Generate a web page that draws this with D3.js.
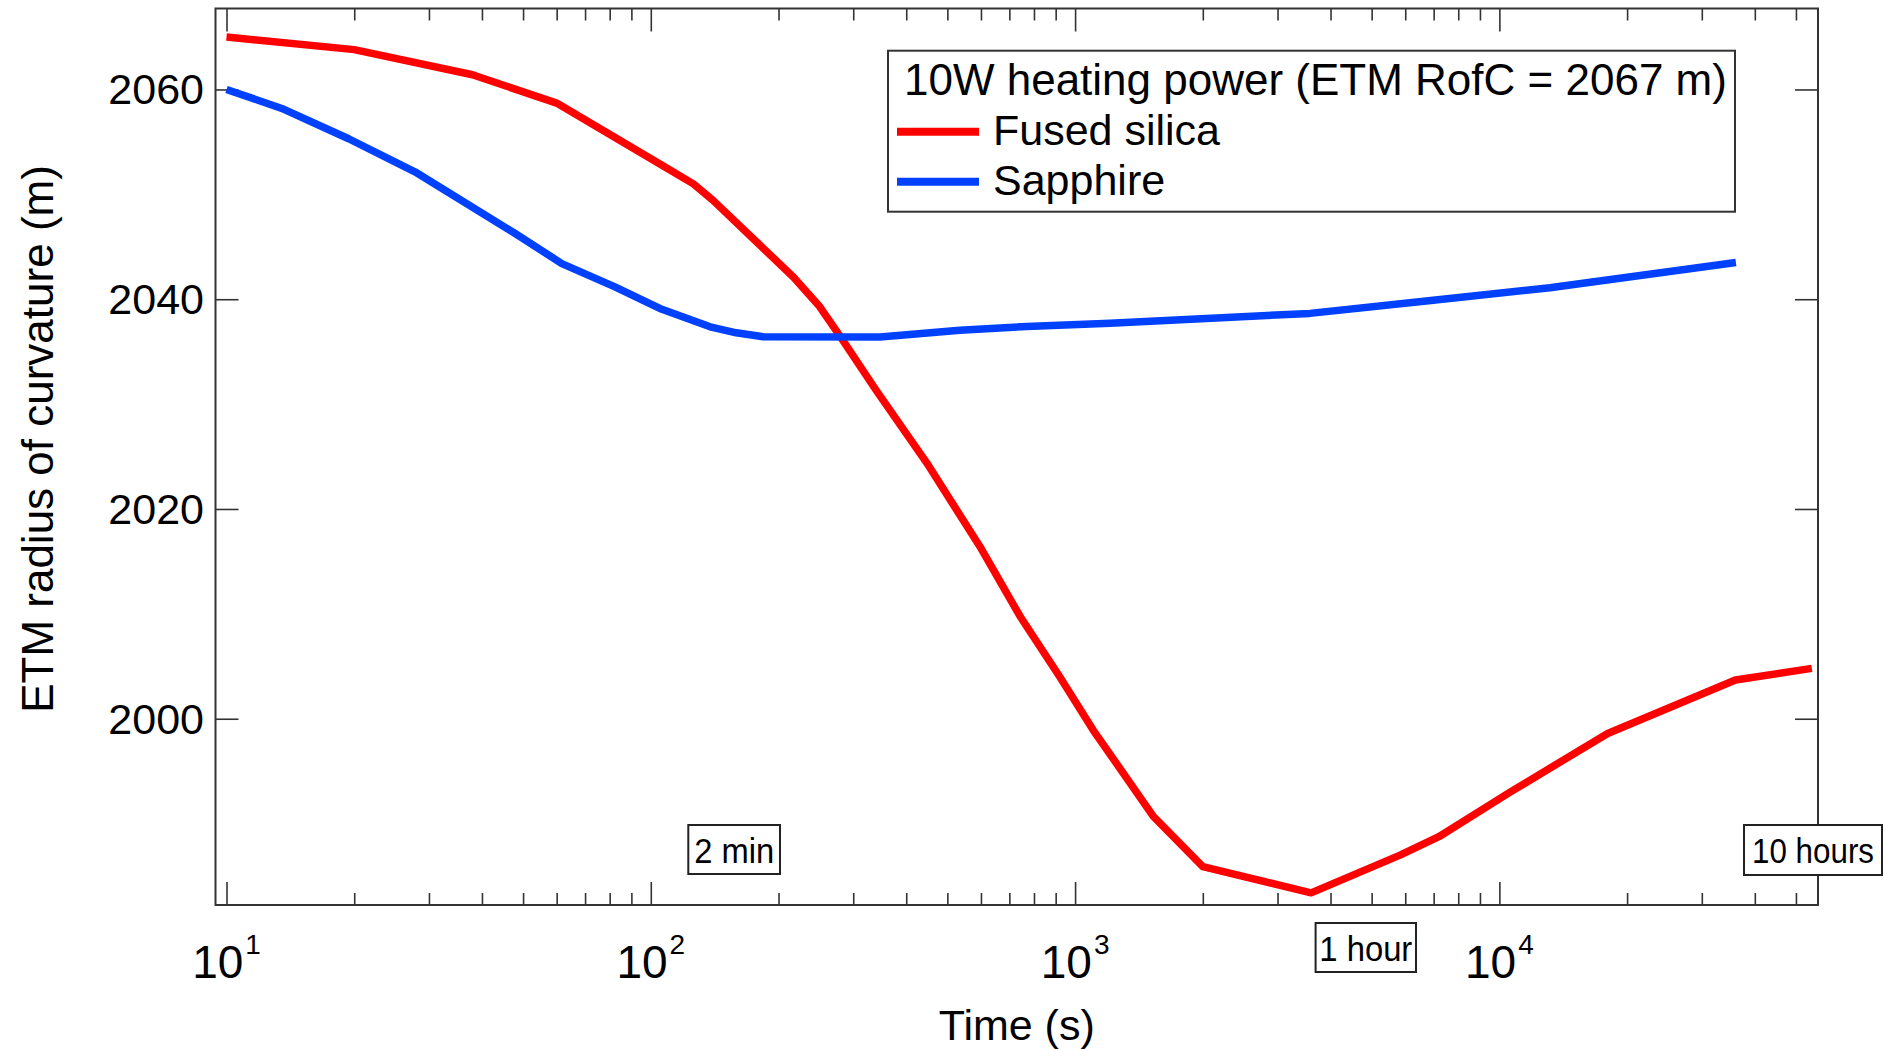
<!DOCTYPE html>
<html>
<head>
<meta charset="utf-8">
<script src="https://cdn.jsdelivr.net/npm/d3@7"></script>
<style>
  html, body { margin: 0; padding: 0; background: #fff; }
  svg { display: block; }
  text { font-family: "Liberation Sans", Arial, sans-serif; fill: #000; }
</style>
</head>
<body>
<svg id="chart" width="1884" height="1049"></svg>
<script>
// ---------------- DATA ----------------
const seriesNames = ["Fused silica", "Sapphire"];
const seriesColors = ["#ff0000", "#0040ff"];

const fusedTime = [10, 20, 38, 60, 108, 126, 140, 217, 250, 280, 340, 447, 597, 741, 920, 1104, 1529, 2000, 3600, 5833, 7200, 10600, 18000, 36000, 54500];
const fusedRofC = [2065.0, 2063.8, 2061.4, 2058.7, 2052.6, 2051.0, 2049.45, 2042.1, 2039.3, 2036.4, 2031.3, 2024.4, 2016.4, 2009.8, 2004.0, 1998.9, 1990.7, 1985.9, 1983.4, 1987.0, 1988.75, 1993.0, 1998.6, 2003.7, 2004.8];

const sapphireTime = [10, 13.5, 19.4, 27.8, 47.9, 61.7, 82.3, 105, 138, 159, 184, 347, 535, 769, 1208, 3577, 6982, 13150, 36100];
const sapphireRofC = [2060.0, 2058.19, 2055.3, 2052.15, 2046.27, 2043.4, 2041.18, 2039.12, 2037.37, 2036.8, 2036.42, 2036.4, 2037.05, 2037.4, 2037.7, 2038.65, 2039.9, 2041.1, 2043.5];

const xMajorTicks = [10, 100, 1000, 10000];
const xTickExponents = ["1", "2", "3", "4"];
const yTicks = [2000, 2020, 2040, 2060];

const legendTitle = "10W heating power (ETM RofC = 2067 m)";
const xTitle = "Time (s)";
const yTitle = "ETM radius of curvature (m)";
const annotationLabels = ["2 min", "1 hour", "10 hours"];

// ---------------- LAYOUT ----------------
const P = { left: 215.5, right: 1818, top: 8.5, bottom: 905 };
const frameColor = "#333";

const svg = d3.select("#chart");

const x = d3.scaleLog().domain([9.42, 56360]).range([P.left, P.right]);
const y = d3.scaleLinear().domain([1982.24, 2067.72]).range([P.bottom, P.top]);

const xMinorTicks = x.ticks().filter(t => !xMajorTicks.includes(t));

function styleAxis(g) {
  g.select(".domain").remove();
  g.selectAll(".tick line").attr("stroke", frameColor).attr("stroke-width", 1.6);
  g.selectAll(".tick text").remove();
}

// x axes (bottom + top), major and minor ticks pointing inward
svg.append("g").attr("transform", `translate(0,${P.bottom})`)
  .call(d3.axisBottom(x).tickValues(xMajorTicks).tickSize(-23).tickFormat("")).call(styleAxis);
svg.append("g").attr("transform", `translate(0,${P.bottom})`)
  .call(d3.axisBottom(x).tickValues(xMinorTicks).tickSize(-12).tickFormat("")).call(styleAxis);
svg.append("g").attr("transform", `translate(0,${P.top})`)
  .call(d3.axisTop(x).tickValues(xMajorTicks).tickSize(-23).tickFormat("")).call(styleAxis);
svg.append("g").attr("transform", `translate(0,${P.top})`)
  .call(d3.axisTop(x).tickValues(xMinorTicks).tickSize(-12).tickFormat("")).call(styleAxis);

// y axes (left + right)
svg.append("g").attr("transform", `translate(${P.left},0)`)
  .call(d3.axisLeft(y).tickValues(yTicks).tickSize(-23).tickFormat("")).call(styleAxis);
svg.append("g").attr("transform", `translate(${P.right},0)`)
  .call(d3.axisRight(y).tickValues(yTicks).tickSize(-23).tickFormat("")).call(styleAxis);

// y tick labels
svg.append("g").selectAll("text").data(yTicks).join("text")
  .attr("x", P.left - 11.5)
  .attr("y", d => y(d) + 15)
  .attr("text-anchor", "end")
  .attr("font-size", 43)
  .text(d => d);

// x tick labels with superscripts
const xl = svg.append("g").selectAll("text").data(xMajorTicks).join("text")
  .attr("x", d => x(d))
  .attr("y", 978)
  .attr("text-anchor", "middle")
  .attr("font-size", 46);
xl.append("tspan").text("10");
xl.append("tspan").attr("font-size", 28).attr("dx", 2).attr("dy", -24)
  .text((d, i) => xTickExponents[i]);

// axis titles
svg.append("text")
  .attr("x", (P.left + P.right) / 2).attr("y", 1040)
  .attr("text-anchor", "middle").attr("font-size", 43)
  .text(xTitle);
svg.append("text")
  .attr("transform", "translate(53,439) rotate(-90)")
  .attr("text-anchor", "middle").attr("font-size", 44)
  .text(yTitle);

// curves
const line = d3.line().x(d => x(d[0])).y(d => y(d[1]));
const fusedData = fusedTime.map((t, i) => [t, fusedRofC[i]]);
const sapphireData = sapphireTime.map((t, i) => [t, sapphireRofC[i]]);
[fusedData, sapphireData].forEach((data, i) => {
  svg.append("path")
    .datum(data)
    .attr("d", line)
    .attr("fill", "none")
    .attr("stroke", seriesColors[i])
    .attr("stroke-width", 7.5)
    .attr("stroke-linejoin", "round")
    .attr("stroke-linecap", "butt");
});

// frame
svg.append("rect")
  .attr("x", P.left).attr("y", P.top)
  .attr("width", P.right - P.left).attr("height", P.bottom - P.top)
  .attr("fill", "none").attr("stroke", frameColor).attr("stroke-width", 2);

// legend
const lg = svg.append("g");
lg.append("rect")
  .attr("x", 888).attr("y", 50.7).attr("width", 847).attr("height", 161)
  .attr("fill", "#fff").attr("stroke", frameColor).attr("stroke-width", 2);
lg.append("text").attr("x", 904).attr("y", 95).attr("font-size", 44).text(legendTitle);
seriesNames.forEach((name, i) => {
  const cy = 131.7 + i * 50;
  lg.append("line").attr("x1", 897).attr("x2", 979).attr("y1", cy).attr("y2", cy)
    .attr("stroke", seriesColors[i]).attr("stroke-width", 8);
  lg.append("text").attr("x", 993).attr("y", 145 + i * 49.5).attr("font-size", 43).text(name);
});

// annotation boxes (layout in pixels)
const annotationBoxes = [
  { x0: 688.3, x1: 780, y0: 825, y1: 874, len: 80 },
  { x0: 1315.6, x1: 1416, y0: 923, y1: 972, len: 93 },
  { x0: 1744, x1: 1882, y0: 825, y1: 875, len: 122 }
];
annotationLabels.forEach((lab, i) => {
  const b = annotationBoxes[i];
  svg.append("rect")
    .attr("x", b.x0).attr("y", b.y0).attr("width", b.x1 - b.x0).attr("height", b.y1 - b.y0)
    .attr("fill", "#fff").attr("stroke", "#222").attr("stroke-width", 2);
  svg.append("text")
    .attr("x", (b.x0 + b.x1) / 2).attr("y", (b.y0 + b.y1) / 2 + 13)
    .attr("text-anchor", "middle").attr("font-size", 35)
    .attr("textLength", b.len).attr("lengthAdjust", "spacingAndGlyphs")
    .text(lab);
});
</script>
</body>
</html>
